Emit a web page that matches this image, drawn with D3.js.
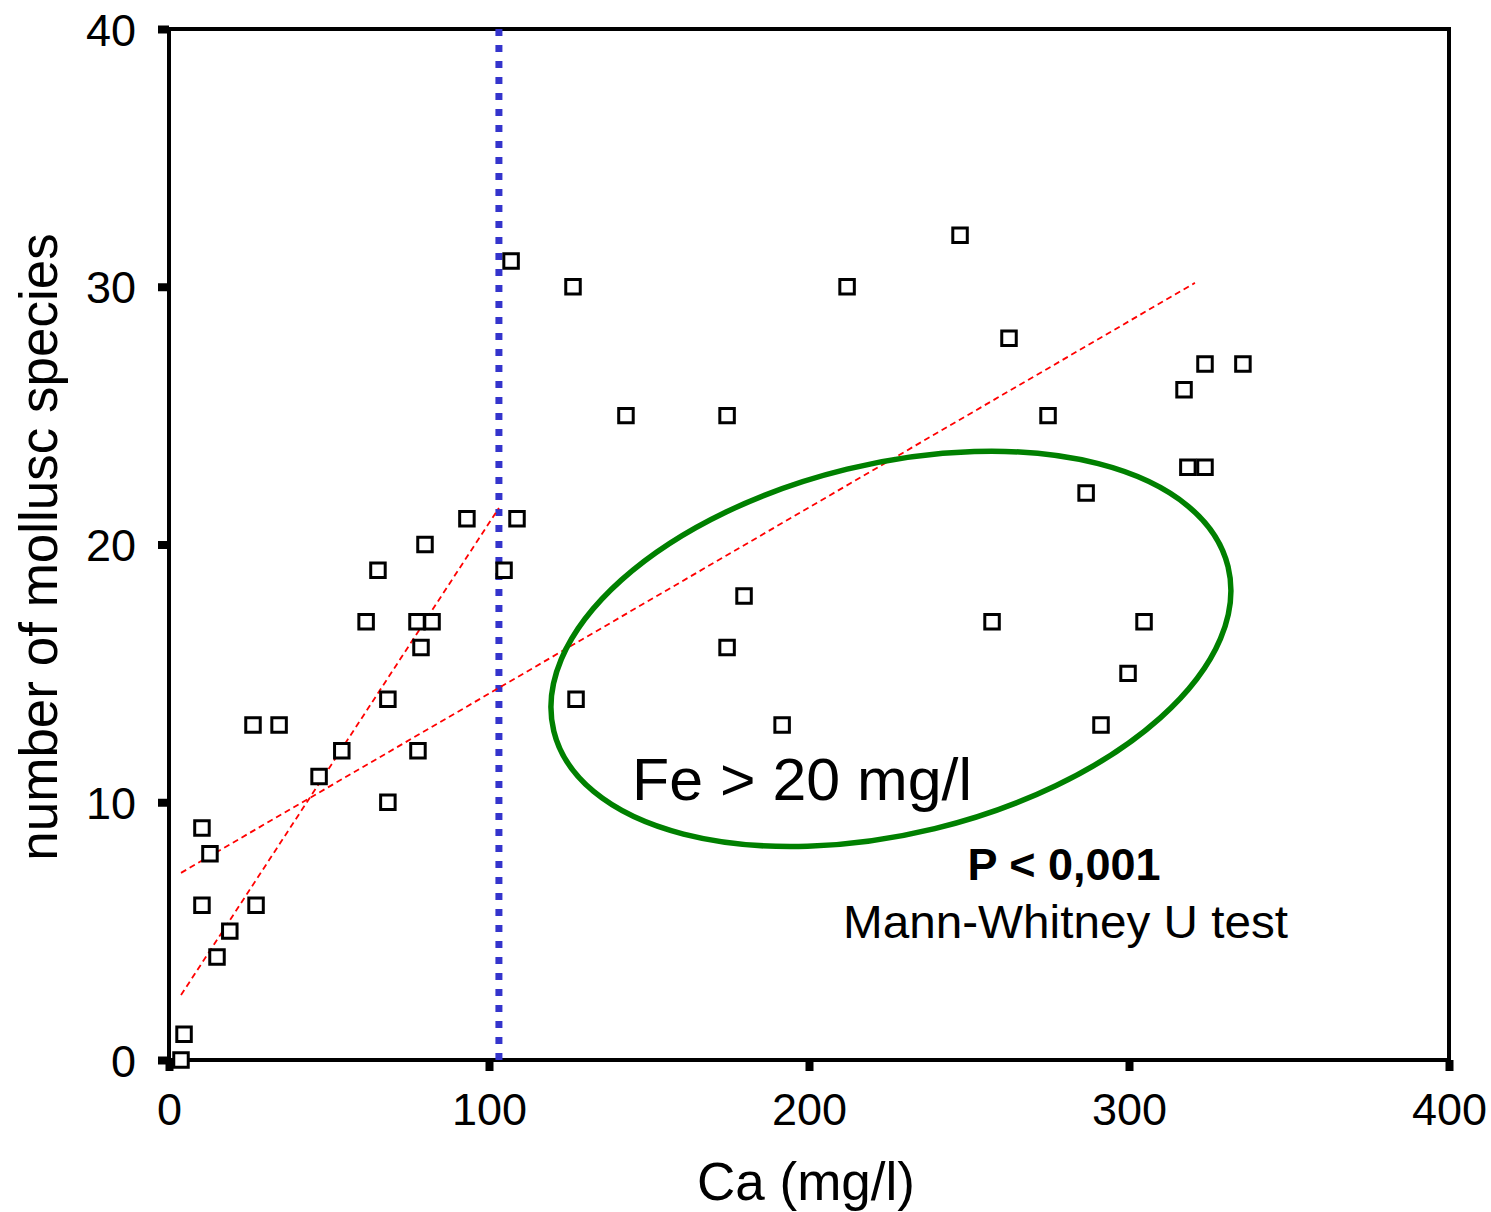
<!DOCTYPE html>
<html>
<head>
<meta charset="utf-8">
<script src="https://cdn.jsdelivr.net/npm/d3@7"></script>
<style>
  body { margin: 0; background: #fff; }
  text { font-family: "Liberation Sans", Arial, sans-serif; fill: #000; }
</style>
</head>
<body>
<script>
// ---- data ----
var caValues = [3.75, 4.7, 10.3, 12.8, 10.3, 15, 19, 27.2, 26.25, 34.4, 46.9, 54, 61.6, 65.3, 68.4, 68.4,
                77.5, 82.2, 78.75, 77.8, 80, 93.1, 108.75, 104.7, 106.9, 126.25, 127.2, 142.8, 174.4, 174.4,
                179.7, 191.6, 211.9, 247.2, 257.2, 262.5, 274.7, 286.6, 291.25, 299.7, 304.7, 317.2, 318.4,
                323.75, 323.75, 335.6];
var speciesValues = [0, 1, 9, 8, 6, 4, 5, 6, 13, 13, 11, 12, 17, 19, 14, 10,
                     17, 17, 16, 12, 20, 21, 21, 19, 31, 30, 14, 25, 25, 16,
                     18, 13, 30, 32, 17, 28, 25, 22, 13, 15, 17, 26, 23,
                     23, 27, 27];

var xTicks = [0, 100, 200, 300, 400];
var yTicks = [0, 10, 20, 30, 40];

// regression lines (end points in data units)
var fitLow = [[3.75, 2.52], [103.1, 21.42]];
var fitAll = [[3.75, 7.26], [320.6, 30.15]];

var splitCa = 103.1;           // blue dotted threshold
var ellipseCenter = [225.6, 15.95];

// ---- layout ----
var W = 1491, H = 1212;
var plotL = 169, plotT = 29, plotR = 1449, plotB = 1060;

var svg = d3.select('body').append('svg').attr('width', W).attr('height', H);

var x = d3.scaleLinear().domain([0, 400]).range([plotL, plotR]);
var y = d3.scaleLinear().domain([0, 40]).range([plotB, plotT]);

// axes with short fat ticks
var xAxis = svg.append('g').attr('transform', 'translate(0,' + plotB + ')')
  .call(d3.axisBottom(x).tickValues(xTicks).tickSize(11).tickPadding(20).tickFormat(d3.format('d')));
var yAxis = svg.append('g').attr('transform', 'translate(' + plotL + ',0)')
  .call(d3.axisLeft(y).tickValues(yTicks).tickSize(11).tickPadding(22).tickFormat(d3.format('d')));

[xAxis, yAxis].forEach(function(a){
  a.select('.domain').remove();
  a.selectAll('.tick line').attr('stroke', '#000').attr('stroke-width', 8);
  a.selectAll('.tick text').style('font-size', '45px').attr('fill', '#000');
});
xAxis.selectAll('.tick text').attr('dy', '0.75em');
yAxis.selectAll('.tick text').attr('dy', '0.36em');

// frame
svg.append('rect')
  .attr('x', plotL).attr('y', plotT)
  .attr('width', plotR - plotL).attr('height', plotB - plotT)
  .attr('fill', 'none').attr('stroke', '#000').attr('stroke-width', 4);

// blue dotted threshold
svg.append('line')
  .attr('x1', x(splitCa)).attr('x2', x(splitCa))
  .attr('y1', y(40)).attr('y2', y(0) + 2)
  .attr('stroke', '#3434cc').attr('stroke-width', 7)
  .attr('stroke-dasharray', '7 9');

// red dashed fits
var line = d3.line().x(function(d){ return x(d[0]); }).y(function(d){ return y(d[1]); });
[fitLow, fitAll].forEach(function(f){
  svg.append('path').attr('d', line(f))
    .attr('fill', 'none').attr('stroke', '#ff0000')
    .attr('stroke-width', 1.8).attr('stroke-dasharray', '6 4');
});

// points
var pts = caValues.map(function(c, i){ return [c, speciesValues[i]]; });
svg.append('g').selectAll('path').data(pts).join('path')
  .attr('transform', function(d){ return 'translate(' + x(d[0]) + ',' + y(d[1]) + ')'; })
  .attr('d', d3.symbol(d3.symbolSquare, 210))
  .attr('fill', '#fff').attr('stroke', '#000').attr('stroke-width', 3);

// green ellipse annotation
svg.append('ellipse')
  .attr('transform', 'translate(' + x(ellipseCenter[0]) + ',' + y(ellipseCenter[1]) + ') rotate(-13.7)')
  .attr('rx', 347).attr('ry', 185)
  .attr('fill', 'none').attr('stroke', '#008000').attr('stroke-width', 5.5);

// annotations
svg.append('text').attr('x', 632).attr('y', 800)
  .attr('textLength', 340).attr('lengthAdjust', 'spacingAndGlyphs')
  .style('font-size', '59px').text('Fe > 20 mg/l');
svg.append('text').attr('x', 1064).attr('y', 880).attr('text-anchor', 'middle')
  .style('font-size', '45px').style('font-weight', 'bold').text('P < 0,001');
svg.append('text').attr('x', 843).attr('y', 938)
  .attr('textLength', 445).attr('lengthAdjust', 'spacingAndGlyphs')
  .style('font-size', '47px').text('Mann-Whitney U test');

// axis titles
svg.append('text').attr('x', 806).attr('y', 1200).attr('text-anchor', 'middle')
  .style('font-size', '53px').text('Ca (mg/l)');
svg.append('text')
  .attr('transform', 'translate(57,' + 547 + ') rotate(-90)')
  .attr('text-anchor', 'middle')
  .style('font-size', '53px').text('number of mollusc species');
</script>
</body>
</html>
